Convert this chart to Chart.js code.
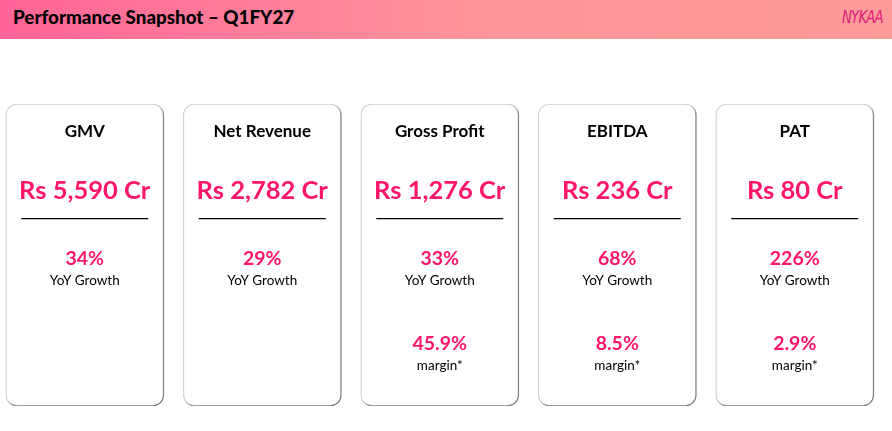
<!DOCTYPE html>
<html>
<head>
<meta charset="utf-8">
<script src="https://cdn.jsdelivr.net/npm/chart.js@4.4.1/dist/chart.umd.min.js"></script>
<style>
  html, body { margin: 0; padding: 0; background: #fff; width: 892px; height: 431px; overflow: hidden; }
  #header {
    position: absolute; left: 0; top: 0; width: 892px; height: 39px;
    background: linear-gradient(90deg, #FF6496 0%, #FF7F9C 30%, #FF9699 55%, #FF9B9A 100%);
    z-index: 2;
  }
  #title {
    position: absolute; left: 13px; top: 5px;
    font-family: Lato, "Open Sans", sans-serif; font-weight: 900; font-size: 18.8px;
    color: #000; white-space: nowrap;
  }
  #logo {
    position: absolute; left: 842px; top: 6px;
    font-family: "DejaVu Sans Condensed", "DejaVu Sans", sans-serif; font-style: italic; font-weight: 400;
    font-size: 18px; color: #E0207A; letter-spacing: -1px;
    transform: scaleX(0.82); transform-origin: left top; white-space: nowrap;
  }
  #wrap { position: absolute; left: -4px; top: 0; width: 896px; height: 431px; z-index: 1; }
</style>
</head>
<body>
<div id="header"><div id="title">Performance Snapshot – Q1FY27</div><div id="logo">NYKAA</div></div>
<div id="wrap"><canvas id="c"></canvas></div>
<script>
// ---- data ----
const categories = ['GMV', 'Net Revenue', 'Gross Profit', 'EBITDA', 'PAT'];
const valuesCr = [5590, 2782, 1276, 236, 80];
const yoyGrowth = [34, 29, 33, 68, 226];
const margins = [null, null, 45.9, 8.5, 2.9];
const cardFill = [1, 1, 1, 1, 1];

const PINK = '#FF1569';
const FONT = 'Lato, "Open Sans", sans-serif';

const fmt = v => 'Rs ' + v.toLocaleString('en-US') + ' Cr';

const shadowPlugin = {
  id: 'cardShadow',
  beforeDatasetDraw(chart) {
    const ctx = chart.ctx;
    ctx.save();
    ctx.shadowColor = 'rgba(0,0,0,0.45)';
    ctx.shadowBlur = 2.5;
    ctx.shadowOffsetX = 2;
    ctx.shadowOffsetY = 2;
  },
  afterDatasetDraw(chart) { chart.ctx.restore(); }
};

const textPlugin = {
  id: 'cardText',
  afterDatasetsDraw(chart) {
    const ctx = chart.ctx;
    const meta = chart.getDatasetMeta(0);
    ctx.save();
    ctx.textAlign = 'center';
    ctx.textBaseline = 'alphabetic';
    meta.data.forEach((bar, i) => {
      const cx = bar.x;
      const top = bar.y;
      ctx.fillStyle = '#000';
      ctx.font = '700 17px ' + FONT;
      ctx.fillText(categories[i], cx, top + 32.7);
      ctx.fillStyle = PINK;
      ctx.font = '700 25.5px ' + FONT;
      ctx.fillText(fmt(valuesCr[i]), cx, top + 95.3);
      ctx.strokeStyle = '#000';
      ctx.lineWidth = 1.3;
      ctx.beginPath();
      ctx.moveTo(cx - 63.5, top + 114.7);
      ctx.lineTo(cx + 63.5, top + 114.7);
      ctx.stroke();
      ctx.fillStyle = PINK;
      ctx.font = '700 19.5px ' + FONT;
      ctx.fillText(yoyGrowth[i] + '%', cx, top + 161);
      ctx.fillStyle = '#000';
      ctx.font = '400 13.5px ' + FONT;
      ctx.fillText('YoY Growth', cx, top + 181);
      if (margins[i] !== null) {
        ctx.fillStyle = PINK;
        ctx.font = '700 19.5px ' + FONT;
        ctx.fillText(margins[i].toFixed(1) + '%', cx, top + 246);
        ctx.fillStyle = '#000';
        ctx.font = '400 13.5px ' + FONT;
        ctx.fillText('margin*', cx, top + 266);
      }
    });
    ctx.restore();
  }
};

new Chart(document.getElementById('c'), {
  type: 'bar',
  data: {
    labels: categories,
    datasets: [{
      data: cardFill,
      backgroundColor: '#ffffff',
      borderColor: '#d2d2d2',
      borderWidth: 1.2,
      borderRadius: 11,
      borderSkipped: false,
      barThickness: 158
    }]
  },
  options: {
    responsive: true,
    maintainAspectRatio: false,
    animation: false,
    events: [],
    layout: { padding: { left: 0, right: 8.5, top: 104, bottom: 25 } },
    plugins: { legend: { display: false }, tooltip: { enabled: false } },
    scales: {
      x: { display: false, offset: true },
      y: { display: false, min: 0, max: 1 }
    }
  },
  plugins: [shadowPlugin, textPlugin]
});
</script>
</body>
</html>
